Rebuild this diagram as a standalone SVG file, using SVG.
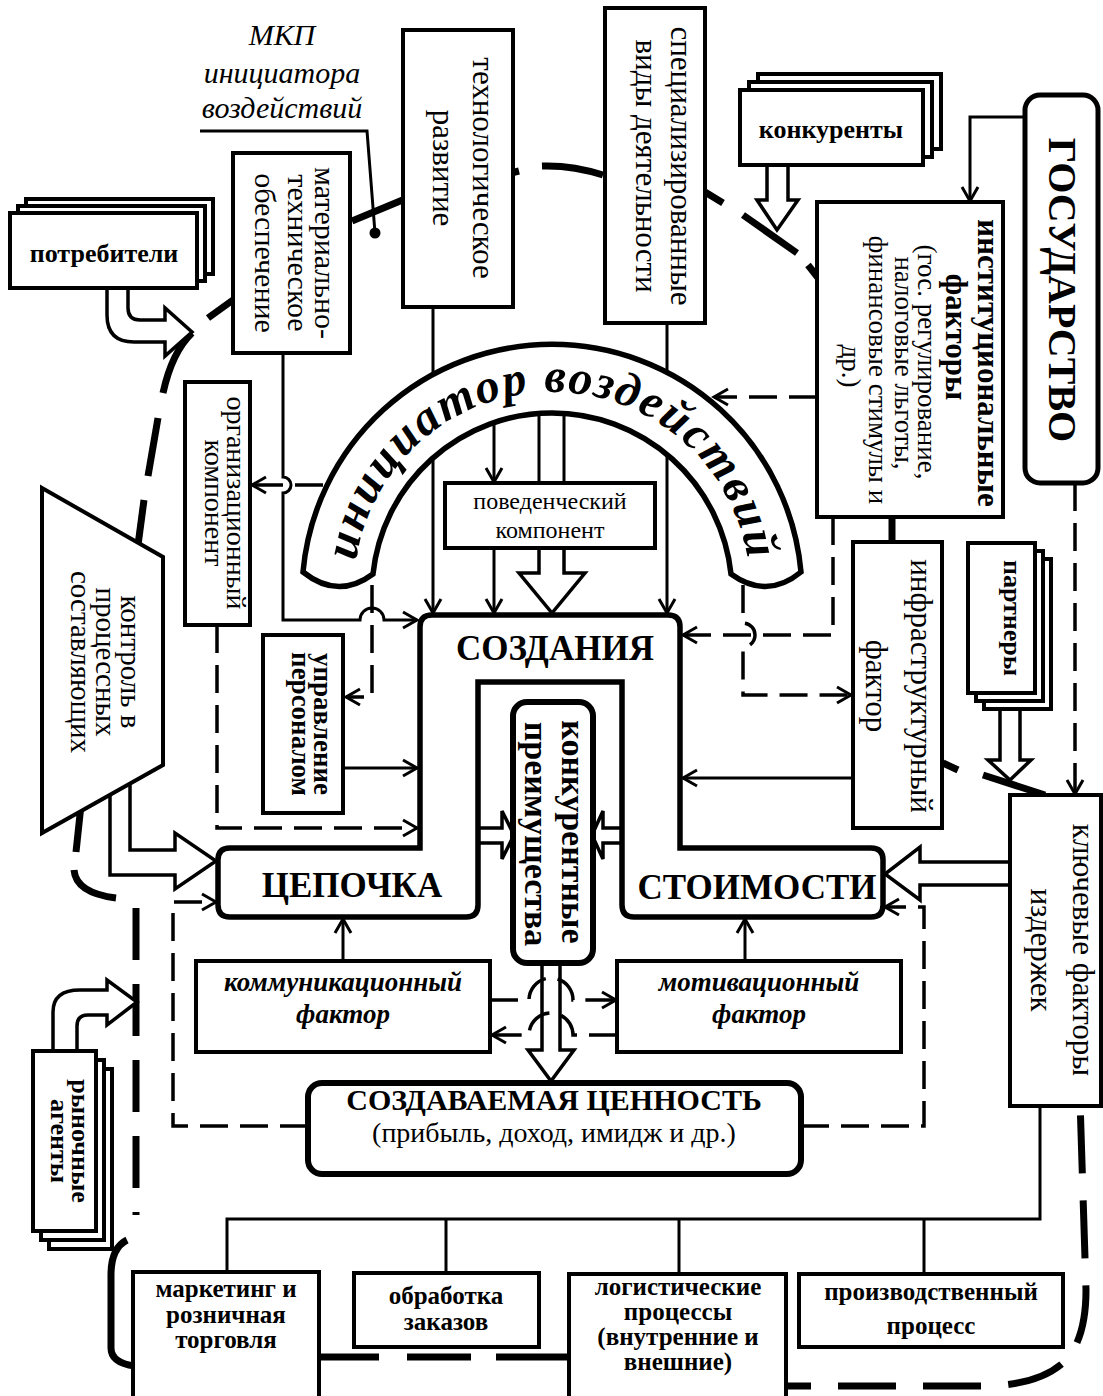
<svg xmlns="http://www.w3.org/2000/svg" width="1103" height="1396" viewBox="0 0 1103 1396">
<style>
.bx{fill:#fff;stroke:#000;stroke-width:4}
.bx5{fill:#fff;stroke:#000;stroke-width:5.5}
.ln{fill:none;stroke:#000;stroke-width:3}
.ds{fill:none;stroke:#000;stroke-width:3.5;stroke-dasharray:28 12}
.ba{fill:#fff;stroke:#000;stroke-width:3.5;stroke-linejoin:miter}
.el{fill:none;stroke:#000;stroke-width:7}
.t{font-family:"Liberation Serif","DejaVu Serif","Times New Roman",serif;fill:#000}
.b{font-weight:bold}
.i{font-style:italic}
</style>
<defs>
<marker id="a" markerUnits="userSpaceOnUse" markerWidth="20" markerHeight="20" viewBox="0 0 20 20" refX="17" refY="10" orient="auto">
<path d="M3,2 L17,10 L3,18" fill="none" stroke="#000" stroke-width="3"/>
</marker>
<path id="tp" d="M354,590 A198,198 0 0 1 750,590" fill="none"/>
</defs>
<rect width="1103" height="1396" fill="#fff"/>

<g id="mkp-ellipse">
<path class="el" d="M192,333 Q172,352 163,393"/>
<path class="el" d="M158,418 L148,476"/>
<path class="el" d="M144,500 L138,545"/>
<path class="el" d="M81,805 L76,852"/>
<path class="el" d="M74,870 Q76,893 116,898"/>
<path class="el" d="M136,908 V1215" stroke-dasharray="52 24"/>
<path class="el" d="M127,1240 Q111,1248 111,1275 V1348 Q111,1363 135,1366"/>
<path class="el" d="M319,1357 H379 M407,1357 H471 M496,1357 H569"/>
<path class="el" d="M786,1386 H990 Q1040,1384 1064,1362 Q1086,1340 1086,1290 L1080,1100" stroke-dasharray="58 27" stroke-dashoffset="33"/>
<path class="el" d="M983,775 L1045,795" stroke-width="8"/>
<path class="el" d="M943,763 L958,770"/>
<path class="el" d="M892,517 V542" stroke-width="8"/>
<path class="el" d="M808,265 L819,279"/>
<path class="el" d="M743,215 L797,253" stroke-width="8"/>
<path class="el" d="M705,192 L723,203"/>
<path class="el" d="M542,166 Q572,165 603,175"/>
<path class="el" d="M511,173 L519,171"/>
<path class="el" d="M352,221 L405,199"/>
<path class="el" d="M208,318 L233,300"/>
</g>

<g id="mkp-label">
<text class="t i" font-size="30" x="282" y="45" text-anchor="middle">МКП</text>
<text class="t i" font-size="30" x="282" y="83" text-anchor="middle">инициатора</text>
<text class="t i" font-size="30" x="282" y="118" text-anchor="middle">воздействий</text>
<path class="ln" d="M200,131 H367 L375,233"/>
<circle cx="375" cy="233" r="5.5" fill="#000"/>
</g>

<g id="connectors">
<path class="ln" d="M1025,117 H970 V201" marker-end="url(#a)"/>
<path class="ln" d="M283,353 V477 A8,8 0 0 1 283,493 V620 H360 A12,12 0 0 1 384,620 H417" marker-end="url(#a)"/>
<path class="ln" d="M433,307 V613" marker-end="url(#a)"/>
<path class="ln" d="M667,323 V613" marker-end="url(#a)"/>
<path class="ln" d="M494,412 V482" marker-end="url(#a)"/>
<path class="ln" d="M494,548 V613" marker-end="url(#a)"/>
<path class="ln" d="M539,405 V483 M564,405 V483"/>
<path class="ln" d="M343,768 H417" marker-end="url(#a)"/>
<path class="ln" d="M853,778 H683" marker-end="url(#a)"/>
<path class="ln" d="M343,961 V919" marker-end="url(#a)"/>
<path class="ln" d="M745,961 V919" marker-end="url(#a)"/>
<path class="ln" d="M1040,1106 V1219 H227 V1272 M446,1219 V1273 M679,1219 V1274 M924,1219 V1274"/>
<path class="ds" d="M372,585 V697 H346" marker-end="url(#a)"/>
<path class="ds" d="M323,485 H252" marker-end="url(#a)"/>
<path class="ds" d="M817,397 H714" marker-end="url(#a)"/>
<path class="ds" d="M833,517 V635 H683" marker-end="url(#a)"/>
<path class="ds" d="M743,585 V623 A12,12 0 0 1 743,647 V695 H851" marker-end="url(#a)"/>
<path class="ds" d="M1075,483 V794" marker-end="url(#a)"/>
<path class="ds" d="M217,625 V828 H417" marker-end="url(#a)"/>
<path class="ds" d="M308,1126 H173 V902 H216" marker-end="url(#a)"/>
<path class="ds" d="M801,1126 H924 V907 H885" marker-end="url(#a)"/>
<path class="ba" d="M107,290 V315 Q107,342 134,342 H165 V356 L192,332 L165,308 V320 H140 Q128,320 128,308 V290"/>
<path class="ba" d="M53,1051 V1012 Q53,990 80,990 H107 V980 L137,1002 L107,1025 V1015 H88 Q77,1015 77,1026 V1051"/>
<path class="ba" d="M767,165 V200 H757 L777,230 L798,200 H788 V165"/>
<path class="ba" d="M1000,709 V760 H988 L1010,780 L1031,760 H1020 V709"/>
<path class="ba" d="M539,548 V573 H519 L552,613 L585,573 H564 V548"/>
<path class="ba" d="M478,828 H502 V811 L514,835 L502,859 V843 H478"/>
<path class="ba" d="M622,828 H603 V811 L592,835 L603,859 V843 H622"/>
<path class="ba" d="M542,963 V1050 H528 L551,1081 L574,1050 H560 V963"/>
<path class="ba" d="M1010,862 H920 V847 L885,874 L920,900 V885 H1010"/>
<path class="ba" d="M130,783 V850 H175 V833 L216,861 L175,889 V875 H110 V796"/>
<path class="ds" d="M490,1000 H529 A22,22 0 0 1 573,1000 H616" marker-end="url(#a)"/>
<path class="ds" d="M617,1035 H573 A22,22 0 0 0 529,1035 H492" marker-end="url(#a)"/>
</g>

<g id="initiator">
<path d="M303,572 A250,250 0 0 1 801,572 Q767,600 731,574 A180,180 0 0 0 373,574 Q338,600 303,572 Z" fill="#fff" stroke="#000" stroke-width="5.5"/>
<text class="t b i" font-size="48" letter-spacing="2"><textPath href="#tp" startOffset="50%" text-anchor="middle">инициатор воздействий</textPath></text>
</g>

<g id="potrebiteli">
<rect class="bx" x="26" y="199" width="187" height="75"/>
<rect class="bx" x="18" y="206" width="187" height="75"/>
<rect class="bx" x="10" y="213" width="187" height="75"/>
<text class="t b" font-size="26" x="104" y="262" text-anchor="middle">потребители</text>
</g>

<g id="material">
<rect class="bx" x="233" y="153" width="117" height="200"/>
<text class="t" font-size="30" text-anchor="middle" transform="translate(315,253) rotate(90)">материально-</text>
<text class="t" font-size="30" text-anchor="middle" transform="translate(288,253) rotate(90)">техническое</text>
<text class="t" font-size="30" text-anchor="middle" transform="translate(255,253) rotate(90)">обеспечение</text>
</g>

<g id="tech">
<rect class="bx" x="403" y="30" width="110" height="277"/>
<text class="t" font-size="31" text-anchor="middle" transform="translate(473,168) rotate(90)">технологическое</text>
<text class="t" font-size="31" text-anchor="middle" transform="translate(433,168) rotate(90)">развитие</text>
</g>

<g id="spec">
<rect class="bx" x="605" y="8" width="100" height="315"/>
<text class="t" font-size="31" text-anchor="middle" transform="translate(671,166) rotate(90)">специализированные</text>
<text class="t" font-size="31" text-anchor="middle" transform="translate(636,166) rotate(90)">виды деятельности</text>
</g>

<g id="konkurenty">
<rect class="bx" x="758" y="74" width="183" height="75"/>
<rect class="bx" x="749" y="82" width="183" height="75"/>
<rect class="bx" x="740" y="90" width="183" height="75"/>
<text class="t b" font-size="26" x="831" y="138" text-anchor="middle">конкуренты</text>
</g>

<g id="gosudarstvo">
<rect x="1025" y="95" width="73" height="388" rx="15" fill="#fff" stroke="#000" stroke-width="5"/>
<text class="t b" font-size="40" text-anchor="middle" transform="translate(1049,290) rotate(90)">ГОСУДАРСТВО</text>
</g>

<g id="institutional">
<rect class="bx" x="817" y="202" width="186" height="315"/>
<text class="t b" font-size="31" text-anchor="middle" transform="translate(978,363) rotate(90)">институциональные</text>
<text class="t b" font-size="31" text-anchor="middle" transform="translate(946,337) rotate(90)">факторы</text>
<text class="t" font-size="27" text-anchor="middle" transform="translate(918,362) rotate(90)">(гос. регулирование,</text>
<text class="t" font-size="27" text-anchor="middle" transform="translate(895,363) rotate(90)">налоговые льготы,</text>
<text class="t" font-size="27" text-anchor="middle" transform="translate(869,370) rotate(90)">финансовые стимулы и</text>
<text class="t" font-size="27" text-anchor="middle" transform="translate(842,366) rotate(90)">др.)</text>
</g>

<g id="organizational">
<rect class="bx" x="185" y="382" width="65" height="243"/>
<text class="t" font-size="28" text-anchor="middle" transform="translate(227,503) rotate(90)">организационный</text>
<text class="t" font-size="28" text-anchor="middle" transform="translate(205,503) rotate(90)">компонент</text>
</g>

<g id="behavioral">
<rect class="bx" x="445" y="483" width="210" height="65"/>
<text class="t" font-size="24" x="550" y="509" text-anchor="middle">поведенческий</text>
<text class="t" font-size="24" x="550" y="538" text-anchor="middle">компонент</text>
</g>

<g id="control">
<polygon class="bx" points="42,488 163,557 163,765 42,833"/>
<text class="t" font-size="29" text-anchor="middle" transform="translate(121,662) rotate(90)">контроль в</text>
<text class="t" font-size="29" text-anchor="middle" transform="translate(96,662) rotate(90)">процессных</text>
<text class="t" font-size="29" text-anchor="middle" transform="translate(71,662) rotate(90)">составляющих</text>
</g>

<g id="personnel">
<rect class="bx" x="263" y="635" width="80" height="178"/>
<text class="t b" font-size="27" text-anchor="middle" transform="translate(314,724) rotate(90)">управление</text>
<text class="t b" font-size="27" text-anchor="middle" transform="translate(292,724) rotate(90)">персоналом</text>
</g>

<g id="infrastructure">
<rect class="bx" x="853" y="542" width="89" height="286"/>
<text class="t" font-size="31" text-anchor="middle" transform="translate(911,686) rotate(90)">инфраструктурный</text>
<text class="t" font-size="31" text-anchor="middle" transform="translate(866,686) rotate(90)">фактор</text>
</g>

<g id="partners">
<rect class="bx" x="984" y="559" width="67" height="150"/>
<rect class="bx" x="976" y="551" width="67" height="150"/>
<rect class="bx" x="968" y="543" width="67" height="150"/>
<text class="t b" font-size="26" text-anchor="middle" transform="translate(1004,618) rotate(90)">партнеры</text>
</g>

<g id="value-chain">
<path class="bx5" d="M230,848 H420 V627 Q420,615 432,615 H668 Q680,615 680,627 V848 H871 Q883,848 883,860 V905 Q883,917 871,917 H634 Q622,917 622,905 V682 H478 V905 Q478,917 466,917 H230 Q218,917 218,905 V860 Q218,848 230,848 Z"/>
<text class="t b" font-size="35" x="555" y="660" text-anchor="middle">СОЗДАНИЯ</text>
<text class="t b" font-size="35" x="352" y="897" text-anchor="middle">ЦЕПОЧКА</text>
<text class="t b" font-size="35" x="757" y="899" text-anchor="middle">СТОИМОСТИ</text>
</g>

<g id="advantages">
<rect x="513" y="702" width="80" height="261" rx="14" fill="#fff" stroke="#000" stroke-width="6"/>
<text class="t b" font-size="34" text-anchor="middle" transform="translate(562,832) rotate(90)">конкурентные</text>
<text class="t b" font-size="34" text-anchor="middle" transform="translate(525,834) rotate(90)">преимущества</text>
</g>

<g id="key-costs">
<rect class="bx" x="1010" y="795" width="91" height="311"/>
<text class="t" font-size="31" text-anchor="middle" transform="translate(1073,950) rotate(90)">ключевые факторы</text>
<text class="t" font-size="31" text-anchor="middle" transform="translate(1031,950) rotate(90)">издержек</text>
</g>

<g id="communication">
<rect class="bx" x="196" y="961" width="294" height="91"/>
<text class="t b i" font-size="27" x="343" y="991" text-anchor="middle">коммуникационный</text>
<text class="t b i" font-size="27" x="343" y="1023" text-anchor="middle">фактор</text>
</g>

<g id="motivation">
<rect class="bx" x="617" y="961" width="284" height="91"/>
<text class="t b i" font-size="27" x="759" y="991" text-anchor="middle">мотивационный</text>
<text class="t b i" font-size="27" x="759" y="1023" text-anchor="middle">фактор</text>
</g>

<g id="created-value">
<rect x="308" y="1083" width="493" height="91" rx="14" fill="#fff" stroke="#000" stroke-width="6"/>
<text class="t b" font-size="30" x="554" y="1110" text-anchor="middle">СОЗДАВАЕМАЯ ЦЕННОСТЬ</text>
<text class="t" font-size="28" x="554" y="1142" text-anchor="middle">(прибыль, доход, имидж и др.)</text>
</g>

<g id="market-agents">
<rect class="bx" x="49" y="1069" width="63" height="180"/>
<rect class="bx" x="41" y="1060" width="63" height="180"/>
<rect class="bx" x="33" y="1051" width="63" height="180"/>
<text class="t b" font-size="26" text-anchor="middle" transform="translate(72,1141) rotate(90)">рыночные</text>
<text class="t b" font-size="26" text-anchor="middle" transform="translate(51,1141) rotate(90)">агенты</text>
</g>

<g id="marketing">
<rect class="bx" x="133" y="1272" width="186" height="130"/>
<text class="t b" font-size="25" x="226" y="1297" text-anchor="middle">маркетинг и</text>
<text class="t b" font-size="25" x="226" y="1323" text-anchor="middle">розничная</text>
<text class="t b" font-size="25" x="226" y="1348" text-anchor="middle">торговля</text>
</g>

<g id="orders">
<rect class="bx" x="354" y="1273" width="185" height="74"/>
<text class="t b" font-size="25" x="446" y="1304" text-anchor="middle">обработка</text>
<text class="t b" font-size="25" x="446" y="1330" text-anchor="middle">заказов</text>
</g>

<g id="logistics">
<rect class="bx" x="569" y="1274" width="217" height="130"/>
<text class="t b" font-size="25" x="678" y="1295" text-anchor="middle">логистические</text>
<text class="t b" font-size="25" x="678" y="1320" text-anchor="middle">процессы</text>
<text class="t b" font-size="25" x="678" y="1345" text-anchor="middle">(внутренние и</text>
<text class="t b" font-size="25" x="678" y="1370" text-anchor="middle">внешние)</text>
</g>

<g id="production">
<rect class="bx" x="799" y="1274" width="264" height="73"/>
<text class="t b" font-size="25" x="931" y="1300" text-anchor="middle">производственный</text>
<text class="t b" font-size="25" x="931" y="1334" text-anchor="middle">процесс</text>
</g>
</svg>
